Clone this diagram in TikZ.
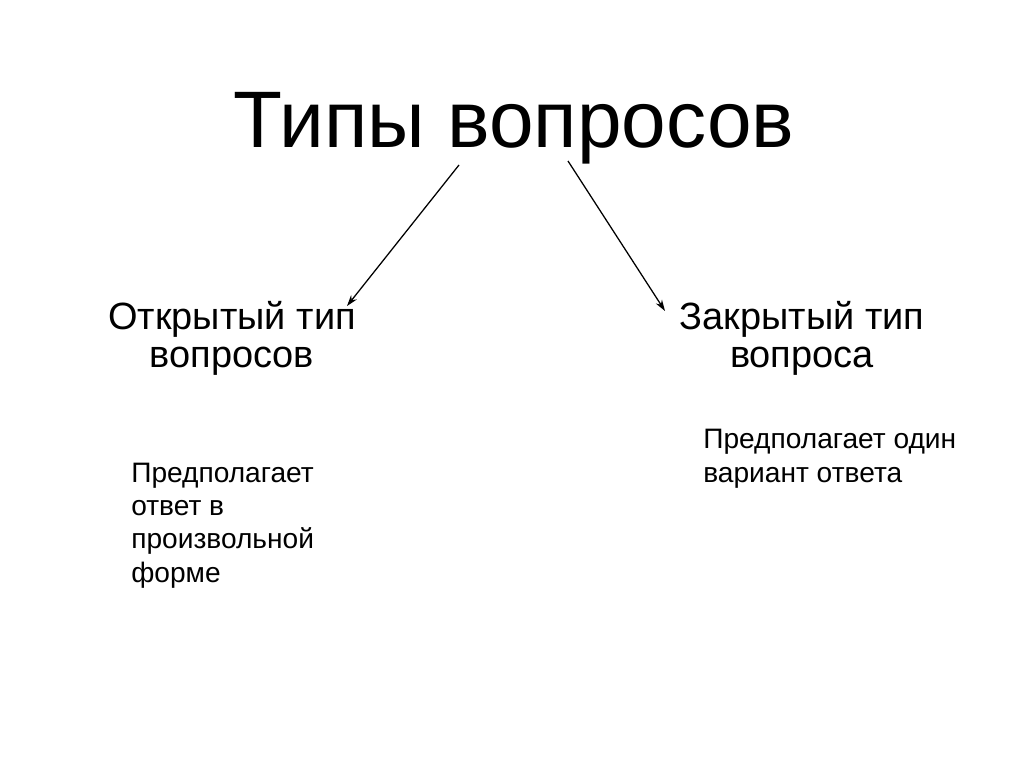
\documentclass[tikz,border=0pt]{standalone}
\usepackage{fontspec}
\setmainfont{Liberation Sans}
\usetikzlibrary{arrows.meta,positioning}

\begin{document}
\begin{tikzpicture}[
      x=0.025cm,y=-0.025cm,
      head/.style={inner sep=0pt,font=\fontsize{57}{68}\selectfont},
      kind/.style={inner sep=0pt,align=center,font=\fontsize{27}{27}\selectfont},
      note/.style={inner sep=0pt,align=left,font=\fontsize{20}{23.5}\selectfont},
      >={Stealth[length=2.8mm,width=1.8mm]}]
    \useasboundingbox (0,0) rectangle (1024,767);
    \node[head,anchor=base] (title) at (514,148) {Типы вопросов};
    \node[kind,anchor=base] (open)  at (232,367) {Открытый тип\\вопросов};
    \node[kind,anchor=base] (closed) at (802,367) {Закрытый тип\\вопроса};
    \node[note,anchor=base west] (opennote)  at (131,582) {Предполагает\\ответ в\\произвольной\\форме};
    \node[note,anchor=base west] (closednote) at (703,482) {Предполагает один\\вариант ответа};
    \coordinate (ls) at (459,165);
    \coordinate (le) at (347,306);
    \coordinate (rs) at (568,161);
    \coordinate (re) at (665,311);
    \draw[->,line width=0.9pt] (ls) -- (le);
    \draw[->,line width=0.9pt] (rs) -- (re);
  \end{tikzpicture}
\end{document}
